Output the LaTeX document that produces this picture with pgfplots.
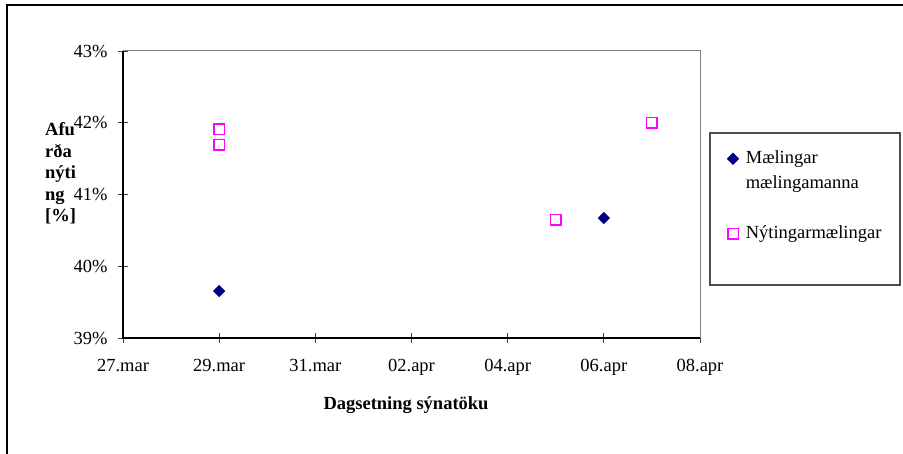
\documentclass[border=0pt]{standalone}
\usepackage{pgfplots}
\usepackage{pgfplotstable}
\pgfplotsset{compat=1.18}
\usepackage{fontspec}
\setmainfont{Liberation Serif}
\definecolor{navyblue}{RGB}{0,0,128}
\definecolor{pinkmag}{RGB}{255,0,255}
\newcommand\chartfont{\fontsize{18.5bp}{22bp}\selectfont}

% days counted from 27 March
\pgfplotstableread{
day val
2 39.655
10 40.672
}\measured
\pgfplotstableread{
day val
2 41.91
2 41.69
9 40.645
11 42.00
}\usage

\begin{document}
\chartfont
\begin{tikzpicture}
\useasboundingbox (0bp,0bp) rectangle (903bp,454bp);
\draw[line width=1.6bp] (7bp,0bp) -- (7bp,449bp) -- (903bp,449bp);
\begin{axis}[
  at={(123bp,116bp)}, anchor=south west,
  scale only axis, width=577bp, height=287bp,
  xmin=0, xmax=12, ymin=39, ymax=43,
  xtick={0,2,...,12},
  xticklabels={27.mar,29.mar,31.mar,02.apr,04.apr,06.apr,08.apr},
  ytick={39,...,43},
  yticklabels={39\%,40\%,41\%,42\%,43\%},
  tickpos=left, tick align=center, major tick length=10bp,
  tick style={black!75, line width=0.9bp},
  axis line style={gray, line width=1bp},
  xticklabel style={font=\chartfont, yshift=-10bp},
  yticklabel style={font=\chartfont, xshift=-4bp},
  clip=false,
  legend cell align=left,
  legend style={draw=none, fill=none, at={(axis description cs:1.0468,0.6585)},
    anchor=north west, inner sep=0pt, row sep=0pt,
    nodes={inner sep=0pt, text height=14bp, text depth=11bp, font=\chartfont}},
  legend image code/.code={\draw[#1] plot coordinates {(5bp,3bp)};},
]
\addplot[only marks, mark=square*, mark size=4.1bp, color=navyblue,
  mark options={rotate=45}]
  table[x=day, y=val] {\measured};
\addlegendentry{\hspace{7bp}Mælingar}
\addlegendimage{empty legend}
\addlegendentry{\hspace{7bp}mælingamanna}
\addlegendimage{empty legend}
\addlegendentry{}
\addplot[only marks, mark=square, mark size=5.3bp, color=pinkmag,
  mark options={line width=1.6bp}]
  table[x=day, y=val] {\usage};
\addlegendentry{\hspace{7bp}Nýtingarmælingar}
\draw[black, line width=1.3bp] (rel axis cs:0,1) -- (rel axis cs:0,0) -- (rel axis cs:1,0);
\end{axis}
\draw[black!70, line width=1.2bp] (710bp,321bp) rectangle (900bp,169bp);
\node[anchor=north west, align=left, inner sep=0pt,
  font=\bfseries\fontsize{18.5bp}{21.5bp}\selectfont]
  at (45bp,331.6bp) {Afu\\rða\\nýti\\ng\\{[\%]}};
\node[font=\bfseries\chartfont, anchor=base] at (406bp,44bp) {Dagsetning sýnatöku};
\end{tikzpicture}
\end{document}
